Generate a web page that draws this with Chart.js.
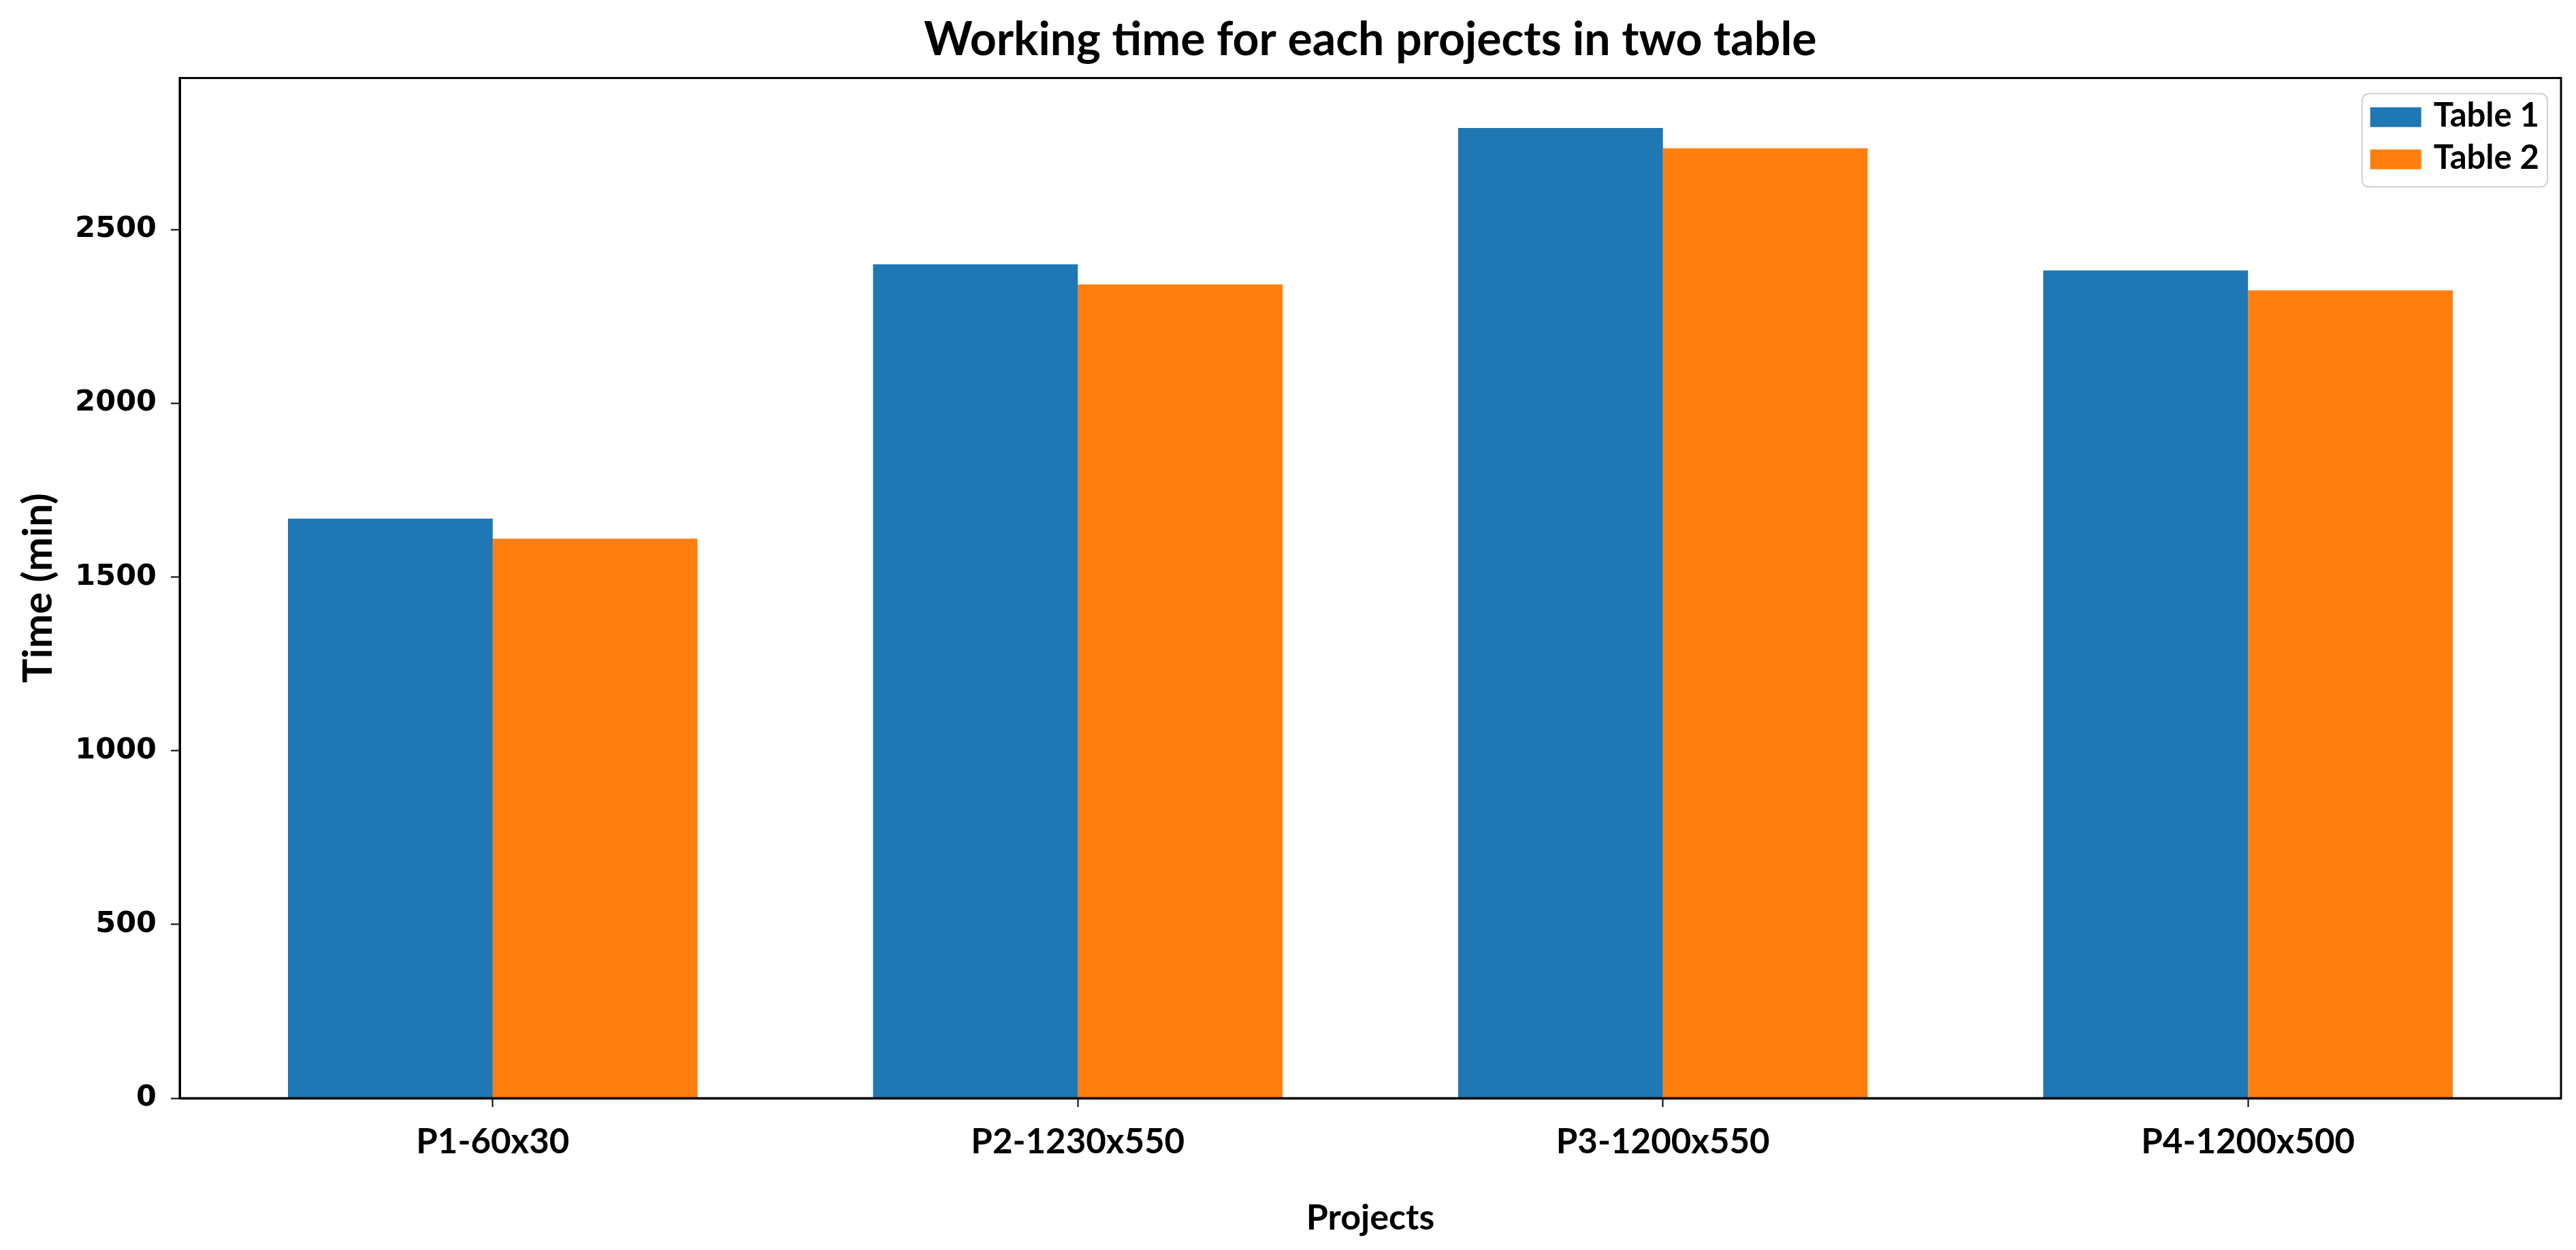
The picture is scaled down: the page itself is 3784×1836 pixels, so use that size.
<!DOCTYPE html>
<html>
<head>
<meta charset="utf-8">
<title>Working time for each projects in two table</title>
<script src="https://cdn.jsdelivr.net/npm/chart.js@4.4.1/dist/chart.umd.min.js"></script>
<style>
  html, body { margin: 0; padding: 0; background: #fff; }
  #wrap { width: 3784px; height: 1836px; position: relative; }
</style>
</head>
<body>
<div id="wrap"><canvas id="workingTimeChart"></canvas></div>
<script>
// Data
var projects = ['P1-60x30', 'P2-1230x550', 'P3-1200x550', 'P4-1200x500'];
var table1 = [1668, 2400, 2792, 2382];
var table2 = [1610, 2342, 2734, 2325];
var seriesNames = ['Table 1', 'Table 2'];
var yTickValues = [0, 500, 1000, 1500, 2000, 2500];
var yMax = 2936;

var blue = '#1f77b4';
var orange = '#ff7f0e';

function toPoints(values) {
    return values.map(function(v, i) { return { x: i, y: v }; });
}

// box round the plot, like matplotlib spines
var framePlugin = {
    id: 'frame',
    afterDraw: function(chart) {
        var a = chart.chartArea;
        var ctx = chart.ctx;
        ctx.save();
        ctx.strokeStyle = '#000';
        ctx.lineWidth = 3;
        ctx.strokeRect(a.left, a.top, a.right - a.left, a.bottom - a.top);
        ctx.restore();
    }
};

// legend in the upper right corner inside the plot
var cornerLegend = {
    id: 'cornerLegend',
    afterDraw: function(chart) {
        var a = chart.chartArea;
        var ctx = chart.ctx;
        var sets = chart.data.datasets;
        ctx.save();
        ctx.font = 'bold 49px Lato';
        var textW = 0;
        sets.forEach(function(ds) {
            textW = Math.max(textW, ctx.measureText(ds.label).width);
        });
        var padX = 12, patchW = 75, patchH = 29, gap = 18, rowH = 62;
        var padTop = 20, padBottom = 26;
        var w = padX + patchW + gap + textW + padX;
        var h = padTop + rowH * (sets.length - 1) + patchH + padBottom;
        var x = a.right - 20 - w;
        var y = a.top + 23;

        ctx.fillStyle = 'rgba(255,255,255,0.8)';
        ctx.strokeStyle = '#d0d0d0';
        ctx.lineWidth = 2;
        ctx.beginPath();
        if (ctx.roundRect) {
            ctx.roundRect(x, y, w, h, 10);
        } else {
            ctx.rect(x, y, w, h);
        }
        ctx.fill();
        ctx.stroke();

        sets.forEach(function(ds, i) {
            var py = y + padTop + i * rowH;
            ctx.fillStyle = ds.backgroundColor;
            ctx.fillRect(x + padX, py, patchW, patchH);
            ctx.fillStyle = '#000';
            ctx.textAlign = 'left';
            ctx.textBaseline = 'middle';
            ctx.fillText(ds.label, x + padX + patchW + gap, py + patchH / 2 - 2);
        });
        ctx.restore();
    }
};

Chart.defaults.color = '#000';

var config = {
    type: 'bar',
    data: {
        datasets: [{
            label: seriesNames[0],
            data: toPoints(table1),
            backgroundColor: blue,
            borderWidth: 0
        }, {
            label: seriesNames[1],
            data: toPoints(table2),
            backgroundColor: orange,
            borderWidth: 0
        }]
    },
    options: {
        responsive: true,
        maintainAspectRatio: false,
        animation: false,
        layout: {
            padding: { left: 0, right: 22, top: 0, bottom: 0 }
        },
        datasets: {
            bar: {
                categoryPercentage: 0.7,
                barPercentage: 1.0
            }
        },
        plugins: {
            legend: { display: false },
            tooltip: { enabled: false },
            title: {
                display: true,
                fullSize: false,
                text: 'Working time for each projects in two table',
                color: '#000',
                font: { family: 'Lato', size: 68, weight: 'bold', lineHeight: 1.2 },
                padding: { top: 18, bottom: 15 }
            }
        },
        scales: {
            x: {
                type: 'linear',
                min: -0.535,
                max: 3.535,
                offset: false,
                afterBuildTicks: function(scale) {
                    scale.ticks = projects.map(function(p, i) { return { value: i }; });
                },
                afterFit: function(scale) {
                    scale.height = 223;
                },
                grid: {
                    display: true,
                    offset: false,
                    drawOnChartArea: false,
                    drawTicks: true,
                    tickLength: 13,
                    tickWidth: 2,
                    tickColor: '#000'
                },
                border: { display: true, color: '#000', width: 3 },
                ticks: {
                    autoSkip: false,
                    maxRotation: 0,
                    padding: 21,
                    color: '#000',
                    font: { family: 'Lato', size: 51, weight: 'bold', lineHeight: 1.2 },
                    callback: function(value) {
                        return projects[value];
                    }
                },
                title: {
                    display: true,
                    text: 'Projects',
                    color: '#000',
                    font: { family: 'Lato', size: 52, weight: 'bold', lineHeight: 1.2 },
                    padding: { top: 0, bottom: 16 }
                }
            },
            y: {
                type: 'linear',
                min: 0,
                max: yMax,
                afterBuildTicks: function(scale) {
                    scale.ticks = yTickValues.map(function(v) { return { value: v }; });
                },
                afterFit: function(scale) {
                    scale.width = 264;
                },
                grid: {
                    display: true,
                    drawOnChartArea: false,
                    drawTicks: true,
                    tickLength: 13,
                    tickWidth: 2,
                    tickColor: '#000'
                },
                border: { display: true, color: '#000', width: 3 },
                ticks: {
                    padding: 21,
                    color: '#000',
                    font: { family: 'DejaVu Sans', size: 43, weight: 'bold' },
                    callback: function(value) {
                        return String(value);
                    }
                },
                title: {
                    display: true,
                    text: 'Time (min)',
                    color: '#000',
                    font: { family: 'Lato', size: 60, weight: 'bold', lineHeight: 1.2 },
                    padding: { top: 21, bottom: 0 }
                }
            }
        }
    },
    plugins: [framePlugin, cornerLegend]
};

var ctx = document.getElementById('workingTimeChart').getContext('2d');
new Chart(ctx, config);
</script>
</body>
</html>
